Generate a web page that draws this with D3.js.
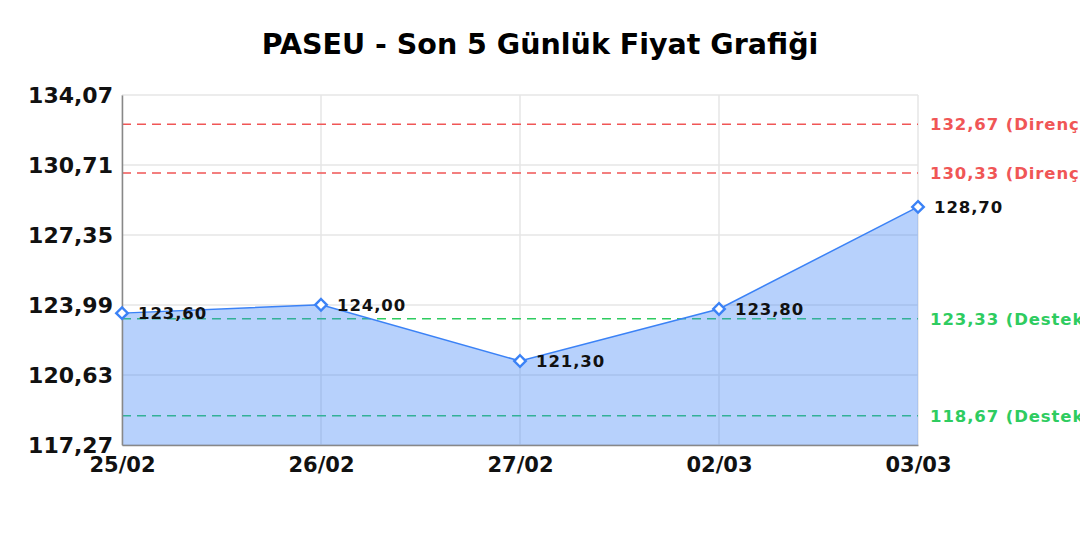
<!DOCTYPE html>
<html>
<head>
<meta charset="utf-8">
<script src="https://cdn.jsdelivr.net/npm/d3@7"></script>
<style>
  body { margin: 0; background: #fff; }
  svg { font-family: 'DejaVu Sans', sans-serif; }
</style>
</head>
<body>
<div class="container"></div>
<script>
const dates = ['25/02', '26/02', '27/02', '02/03', '03/03']
const prices = [123.6, 124.0, 121.3, 123.8, 128.7]
const yTicks = [117.27, 120.63, 123.99, 127.35, 130.71, 134.07]
const resistances = [132.67, 130.33]
const supports = [123.33, 118.67]

const width = 1080
const height = 540
const margins = { top: 95, right: 162, bottom: 95, left: 122 }
const fmt = (v) => v.toFixed(2).replace('.', ',')

const svg = d3.select('.container').append('svg')
  .attr('width', width).attr('height', height)

const xScale = d3.scalePoint()
  .domain(dates)
  .range([margins.left, width - margins.right])

const yScale = d3.scaleLinear()
  .domain([yTicks[0], yTicks[yTicks.length - 1]])
  .range([height - margins.bottom, margins.top])

svg.append('text')
  .attr('x', 540).attr('y', 54)
  .attr('text-anchor', 'middle')
  .attr('font-size', 28.5).attr('font-weight', 'bold')
  .text('PASEU - Son 5 Günlük Fiyat Grafiği')

// grid
svg.append('g').selectAll('line').data(yTicks).join('line')
  .attr('x1', margins.left).attr('x2', width - margins.right)
  .attr('y1', (d) => yScale(d)).attr('y2', (d) => yScale(d))
  .attr('stroke', '#e6e6e6').attr('stroke-width', 1.5)
svg.append('g').selectAll('line').data(dates).join('line')
  .attr('x1', (d) => xScale(d)).attr('x2', (d) => xScale(d))
  .attr('y1', margins.top).attr('y2', height - margins.bottom)
  .attr('stroke', '#e6e6e6').attr('stroke-width', 1.5)

// reference lines
const refs = resistances.map((v) => ({ v, label: `${fmt(v)} (Direnç)`, color: '#f05656' }))
  .concat(supports.map((v) => ({ v, label: `${fmt(v)} (Destek)`, color: '#2ecc60' })))

svg.append('g').selectAll('line').data(refs).join('line')
  .attr('x1', margins.left).attr('x2', width - margins.right)
  .attr('y1', (d) => yScale(d.v)).attr('y2', (d) => yScale(d.v))
  .attr('stroke', (d) => d.color).attr('stroke-width', 1.5)
  .attr('stroke-dasharray', '9,6')

svg.append('g').selectAll('text').data(refs).join('text')
  .attr('x', width - margins.right + 12)
  .attr('y', (d) => yScale(d.v) + 6)
  .attr('fill', (d) => d.color)
  .attr('font-size', 16.5).attr('font-weight', 'bold')
  .attr('letter-spacing', 0.9)
  .text((d) => d.label)

// area + line
const points = dates.map((d, i) => ({ d, v: prices[i] }))
svg.append('path').datum(points)
  .attr('fill', 'rgba(59,130,246,0.37)')
  .attr('d', d3.area().x((p) => xScale(p.d)).y0(yScale(yTicks[0])).y1((p) => yScale(p.v)))
svg.append('path').datum(points)
  .attr('fill', 'none').attr('stroke', '#3b82f6').attr('stroke-width', 1.5)
  .attr('d', d3.line().x((p) => xScale(p.d)).y((p) => yScale(p.v)))

// axes
const axisLeft = d3.axisLeft(yScale).tickValues(yTicks).tickFormat(fmt).tickSize(0).tickPadding(9)
svg.append('g').attr('transform', `translate(${margins.left},0)`).call(axisLeft)
  .call((g) => g.select('.domain').attr('stroke', '#888').attr('stroke-width', 1.5))
  .call((g) => g.selectAll('text').attr('font-size', 22).attr('font-weight', 'bold')
    .attr('font-family', 'DejaVu Sans').attr('fill', '#111'))

const axisBottom = d3.axisBottom(xScale).tickSize(0).tickPadding(12)
svg.append('g').attr('transform', `translate(0,${height - margins.bottom})`).call(axisBottom)
  .call((g) => g.select('.domain').attr('stroke', '#888').attr('stroke-width', 1.5))
  .call((g) => g.selectAll('text').attr('font-size', 21).attr('font-weight', 'bold')
    .attr('font-family', 'DejaVu Sans').attr('fill', '#111'))

// markers
svg.append('g').selectAll('path').data(points).join('path')
  .attr('transform', (p) => `translate(${xScale(p.d)},${yScale(p.v)})`)
  .attr('d', d3.symbol(d3.symbolDiamond2, 85))
  .attr('fill', '#fff').attr('stroke', '#3b82f6').attr('stroke-width', 2.4)

svg.append('g').selectAll('text').data(points).join('text')
  .attr('x', (p) => xScale(p.d) + 16)
  .attr('y', (p) => yScale(p.v) + 6)
  .attr('font-size', 16.5).attr('font-weight', 'bold')
  .attr('letter-spacing', 0.9).attr('fill', '#111')
  .text((p) => fmt(p.v))
</script>
</body>
</html>
